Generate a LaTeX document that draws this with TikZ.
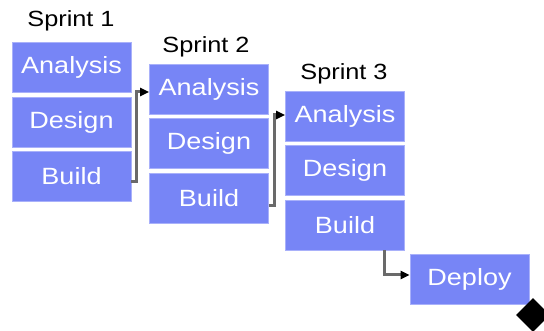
\documentclass[tikz,border=0pt]{standalone}
\usepackage{fontspec}
\setmainfont{Liberation Sans}[FakeStretch=1.15]
\usetikzlibrary{arrows.meta,shapes.geometric,calc}
\definecolor{phase}{HTML}{7785F6}
\definecolor{phaseedge}{HTML}{A9B1FA}
\definecolor{wire}{HTML}{6A6A6A}
\tikzset{
  phasebox/.style={rectangle, fill=phase, draw=phaseedge, line width=0.8pt,
    minimum width=119pt, minimum height=50pt, inner sep=0pt, text=white,
    font=\fontsize{23.5}{26}\selectfont},
  sprintlabel/.style={font=\fontsize{22}{24}\selectfont, text=black, inner sep=0pt},
  conn/.style={wire, line width=3pt,
    -{Triangle[length=9pt,width=8pt,fill=black,color=black]}},
}
\begin{document}
\begin{tikzpicture}[x=1pt,y=-1pt]
\useasboundingbox (0,0) rectangle (544,331);

% Sprint 1
\node[sprintlabel] (s1) at (71,21) {Sprint 1};
\node[phasebox] (a1) at (71.5,67)  {Analysis};
\node[phasebox] (d1) at (71.5,122.5) {Design};
\node[phasebox] (b1) at (71.5,176) {Build};

% Sprint 2
\node[sprintlabel] (s2) at (206,47) {Sprint 2};
\node[phasebox] (a2) at (209,89)  {Analysis};
\node[phasebox] (d2) at (209,143) {Design};
\node[phasebox] (b2) at (209,198) {Build};

% Sprint 3
\node[sprintlabel] (s3) at (344,74) {Sprint 3};
\node[phasebox] (a3) at (345,116)  {Analysis};
\node[phasebox] (d3) at (345,170.5) {Design};
\node[phasebox] (b3) at (345,225)  {Build};

% Release
\node[phasebox] (dep) at (469.5,279) {Deploy};
\node[diamond, fill=black, minimum size=34pt, inner sep=0pt] (end) at (533,315) {};

% Hand-offs between sprints
\draw[conn] ([yshift=-6pt]b1.east) -- ++(5,0) |- ([yshift=-3pt]a2.west);
\draw[conn] ([yshift=-8pt]b2.east) -- ++(6,0) |- ([yshift=1pt]a3.west);
\draw[conn] ([xshift=39pt]b3.south) |- ([yshift=4pt]dep.west);
\end{tikzpicture}
\end{document}
